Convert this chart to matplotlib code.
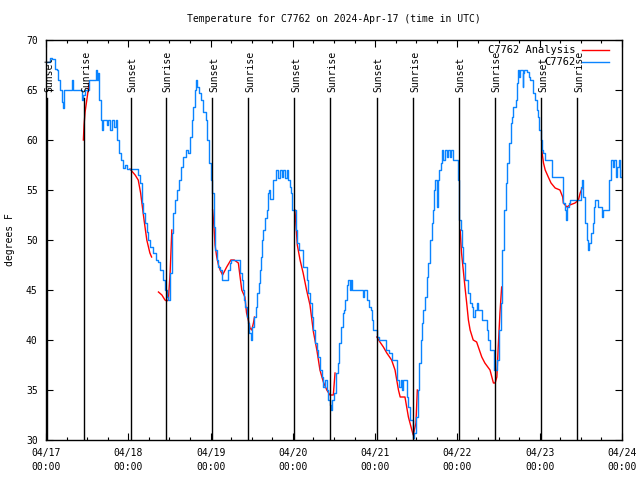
import numpy as np
import matplotlib
matplotlib.use("Agg")
import matplotlib.pyplot as plt
import matplotlib.transforms as mtransforms

# ---- DATA (hours since 04/17 00:00 UTC, degrees F) ----
obs_hours = [
    0.2, 1.2, 1.7, 2.6, 3.3, 3.6, 4.1, 4.6, 5.0, 5.3, 7.5, 7.7, 8.0, 9.9, 10.4, 10.9, 11.4, 12.6, 13.6,
    14.6, 15.0, 15.3, 15.5, 15.9, 16.2, 16.7, 17.7, 18.2, 18.7, 19.2, 19.8, 20.4, 20.6, 21.3, 21.8, 22.4,
    23.0, 23.5,
    26.5, 26.9, 27.4, 27.9, 28.4, 28.9, 29.4, 29.8, 30.3, 31.3, 32.1, 32.8, 33.3, 34.0, 34.7, 35.2, 35.7,
    36.2, 36.7, 37.0, 37.6, 38.1, 38.9, 39.4, 40.0, 40.8, 41.5, 42.0, 42.5, 43.0, 43.5, 43.8, 44.1, 44.6,
    45.2, 45.9, 46.7, 47.0, 47.5,
    48.0, 48.4, 49.0, 49.3, 49.8, 50.3, 50.8, 51.2, 52.9, 53.2, 53.7, 54.0, 55.8, 56.6, 57.1, 57.4, 57.8,
    58.0, 58.5, 59.0, 59.3, 59.7, 60.2, 60.8, 61.3, 61.6, 62.0, 62.4, 62.7, 63.1, 63.4, 63.9, 64.4, 64.8,
    65.1, 65.3, 66.0, 66.1, 67.1, 67.8, 68.3, 68.7, 69.2, 69.7, 70.4, 70.7, 71.2, 71.5, 71.8,
    72.6, 72.8, 73.3, 73.8, 74.9, 75.0, 76.0, 76.5, 77.0, 77.5, 78.0, 78.5, 79.0, 79.4, 79.9, 80.6, 80.9,
    81.4, 81.9, 82.3, 82.8, 83.1, 83.5, 84.0, 84.6, 85.1, 85.5, 86.0, 86.5, 87.0, 87.3, 87.7, 88.2, 88.7,
    89.0, 89.2, 92.1, 92.4, 92.8, 93.3, 93.7, 94.3, 94.7, 95.0, 95.5,
    96.5, 96.6, 97.0, 98.9, 99.2, 100.1, 100.8, 102.3, 102.5, 103.0, 103.5, 103.7, 104.2, 104.9, 105.2,
    105.7, 106.2, 106.7, 107.0, 107.1, 107.4, 107.9, 108.4, 108.9, 109.3, 109.7, 110.0, 110.5, 111.0,
    111.5, 112.0, 112.5, 112.8, 113.2, 113.5, 114.0, 114.2, 114.6, 115.1, 115.4, 115.9, 116.4, 116.9,
    117.3, 117.8, 118.1, 118.6, 119.8,
    120.3, 120.5, 121.0, 121.3, 121.7, 122.2, 122.7, 123.2, 123.7, 124.2, 124.6, 125.1, 125.6, 126.1,
    127.1, 127.2, 128.3, 128.5, 129.0, 129.5, 130.5, 130.8, 131.3, 131.6, 132.1, 132.6, 133.1, 133.6,
    134.1, 134.5, 135.1, 135.5, 136.0, 136.3, 137.0, 137.3, 137.6, 138.0, 138.3, 138.8, 139.0, 139.2,
    139.5, 140.0, 140.4, 140.8, 141.2, 141.8, 142.1, 142.6, 143.1, 143.4, 143.9,
    144.4, 144.7, 145.1, 145.6, 147.2, 147.5, 150.7, 150.9, 151.4, 151.7, 152.0, 152.5, 152.8, 155.8,
    156.0, 156.3, 156.7, 157.2, 157.7, 158.0, 158.4, 159.0, 159.5, 159.8, 160.1, 160.8, 161.1, 162.1,
    162.6, 163.8, 164.3, 164.7, 165.3, 165.8, 166.3, 166.6, 167.1, 167.4, 167.9,
]
obs_temp = [
    67.8, 68.2, 68.1, 67.1, 67.0, 66.0, 65.0, 63.8, 63.2, 65.0, 65.0, 66.0, 65.0, 65.0, 64.0, 64.5, 65.0, 66.0, 66.0,
    67.0, 66.0, 66.7, 64.0, 62.0, 61.0, 62.0, 61.5, 62.0, 61.0, 62.0, 61.3, 62.0, 60.0, 58.7, 58.0, 57.2,
    57.5, 57.1,
    57.1, 56.5, 55.7, 53.7, 52.7, 51.7, 50.8, 50.0, 49.3, 48.7, 48.0, 47.8, 47.0, 46.0, 45.0, 44.3, 44.0,
    46.7, 50.7, 52.7, 54.0, 55.0, 56.0, 57.3, 58.3, 59.0, 58.7, 60.3, 62.0, 63.3, 65.0, 66.0, 65.3, 64.7,
    64.0, 62.8, 62.0, 60.0, 57.7,
    56.0, 54.7, 51.3, 49.0, 48.0, 47.3, 47.0, 46.0, 46.0, 47.0, 47.7, 48.0, 48.0, 46.7, 46.0, 45.0, 44.0,
    43.3, 42.3, 41.7, 40.7, 40.0, 41.3, 42.3, 43.3, 44.7, 45.7, 47.0, 48.3, 50.0, 51.0, 52.2, 53.0, 54.7,
    55.0, 54.1, 54.1, 56.0, 57.0, 56.2, 57.0, 56.3, 57.0, 56.2, 57.0, 56.0, 55.3, 54.7, 53.0,
    53.0, 51.0, 49.7, 49.0, 49.0, 47.3, 46.0, 44.7, 43.7, 42.3, 41.0, 39.7, 39.0, 38.3, 37.0, 36.3, 35.3,
    36.0, 35.0, 34.0, 33.5, 33.0, 34.0, 34.7, 36.7, 37.7, 39.7, 41.3, 42.7, 43.0, 44.0, 45.5, 46.0, 45.0,
    46.0, 45.0, 45.0, 44.3, 45.0, 45.0, 44.0, 43.3, 43.0, 42.0, 41.0,
    41.0, 40.3, 40.0, 40.0, 39.0, 38.7, 38.0, 38.0, 36.0, 35.3, 36.0, 35.0, 36.0, 36.0, 34.3,
    33.3, 32.0, 32.0, 30.7, 30.2, 30.7, 32.3, 35.0, 37.7, 40.0, 41.7, 43.0, 44.3, 46.3,
    47.7, 50.0, 51.7, 53.0, 55.0, 56.0, 53.3, 56.0, 57.0, 57.7, 59.0, 58.0, 59.0, 58.3,
    59.0, 58.3, 59.0, 58.0, 58.0,
    56.0, 52.0, 51.0, 49.3, 47.7, 46.0, 46.0, 44.7, 43.7, 43.3, 42.3, 43.0, 43.7, 43.0,
    43.0, 42.0, 42.0, 41.0, 40.0, 39.0, 39.0, 37.0, 37.0, 38.0, 41.0, 43.7, 49.0, 53.0,
    55.7, 57.7, 59.7, 61.7, 62.3, 63.3, 64.0, 65.7, 67.0, 66.3, 67.0, 67.0, 65.3, 66.7,
    67.0, 67.0, 66.8, 66.3, 66.0, 66.0, 64.7, 64.0, 63.0, 62.3, 61.0,
    60.0, 59.0, 58.7, 58.0, 58.0, 56.3, 56.3, 53.7, 53.0, 52.0, 53.3, 53.7, 54.0, 54.0,
    55.3, 56.0, 54.3, 51.7, 50.0, 49.0, 49.7, 50.7, 51.7, 53.3, 54.0, 54.0, 53.3, 52.3,
    53.0, 53.0, 56.0, 58.0, 57.3, 58.0, 56.3, 57.3, 58.0, 56.3, 57.0,
]

nan = np.nan
ana_hours = [
    10.9, 11.1, 11.4, 11.9, 12.6, nan,
    24.5, 26.0, 26.9, 27.6, 28.6, 29.4, 30.3, 30.8, nan,
    32.8, 33.8, 34.7, 35.2, 35.7, 36.2, 36.7, nan,
    48.6, 49.0, 49.3, 49.8, 50.3, 50.8, 51.5, 52.7, 53.9, 54.9, 56.1, 57.1, 58.0, 58.5, 59.0, 59.5,
    60.0, 60.5, 60.8, nan,
    72.6, 73.3, 74.1, 75.0, 76.0, 77.0, 78.0, 79.0, 79.9, 80.9, 81.9, 82.8, 83.8, 84.3, nan,
    96.5, 97.4, 98.4, 99.4, 100.8, 101.8, 102.8, 103.3, 104.7, 105.7, 106.7, 107.1, 107.9, 108.3, nan,
    120.8, 121.2, 121.7, 122.2, 122.7, 123.2, 123.7, 124.6, 125.6, 126.1, 127.1, 128.0, 129.5, 130.5,
    131.0, 131.5, 131.9, 132.4, 132.9, nan,
    144.6, 145.1, 145.6, 146.5, 147.3, 148.5, 149.9, 150.7, 150.9, 151.9, 152.8, 154.3, 155.3, 155.8, 156.4,
]
ana_temp = [
    60.0, 61.5, 62.8, 64.0, 65.7, nan,
    57.1, 56.5, 56.0, 54.7, 52.0, 50.0, 48.7, 48.3, nan,
    44.8, 44.5, 44.0, 43.9, 44.0, 46.7, 51.0, nan,
    53.0, 51.3, 49.5, 48.3, 47.5, 47.0, 46.5, 47.3, 48.0, 48.0, 47.7, 45.0, 44.3, 42.7, 42.0, 41.2,
    41.0, 41.7, 42.3, nan,
    53.0, 49.5, 48.0, 46.7, 45.0, 43.5, 40.8, 39.0, 37.0, 35.8, 35.0, 34.5, 34.5, 36.7, nan,
    40.3, 39.8, 39.3, 38.7, 38.0, 37.0, 35.0, 34.3, 34.3, 32.3, 31.0, 30.5, 31.7, 35.0, nan,
    51.0, 48.7, 47.0, 45.3, 43.7, 42.0, 41.0, 40.0, 39.8, 39.3, 38.3, 37.7, 37.0, 35.7,
    35.7, 36.3, 39.3, 42.7, 45.3, nan,
    59.0, 57.7, 57.0, 56.3, 55.7, 55.2, 55.0, 54.3, 53.7, 53.3, 53.5, 53.7, 54.0, 54.7, 55.2,
]

sunset_hours = [0.4, 24.7, 48.5, 72.4, 96.5, 120.5, 144.5]
sunrise_hours = [11.2, 35.0, 59.0, 82.9, 107.1, 131.0, 155.0]
day_labels = ["04/17", "04/18", "04/19", "04/20", "04/21", "04/22", "04/23", "04/24"]

assert len(obs_hours) == len(obs_temp), (len(obs_hours), len(obs_temp))
assert len(ana_hours) == len(ana_temp), (len(ana_hours), len(ana_temp))

# ---- PLOT ----
plt.rcParams["font.family"] = "DejaVu Sans Mono"
plt.rcParams["font.size"] = 7

fig = plt.figure(figsize=(6.4, 4.8), dpi=100)
ax = fig.add_axes([46 / 640, 40 / 480, 576 / 640, 400 / 480])

ax.plot(ana_hours, ana_temp, color="#ff0000", lw=1.0, label="C7762 Analysis")
ax.plot(obs_hours, obs_temp, color="#0a84ff", lw=1.0, drawstyle="steps-post", label="C7762")

# sunset / sunrise markers
trans = mtransforms.blended_transform_factory(ax.transData, ax.transAxes)
for name, hrs in [("Sunset", sunset_hours), ("Sunrise", sunrise_hours)]:
    for h in hrs:
        ax.plot([h, h], [0, 0.855], color="black", lw=1.0, transform=trans)
        ax.text(h + 0.5, 0.87, name, rotation=90, ha="center", va="bottom",
                transform=trans, fontsize=7)

ax.set_xlim(0, 168)
ax.set_ylim(30, 70)
ax.set_xticks(np.arange(0, 169, 24))
ax.set_xticklabels([d + "\n00:00" for d in day_labels])
for lab in ax.get_xticklabels():
    lab.set_linespacing(1.45)
ax.set_xticks(np.arange(0, 169, 6), minor=True)
ax.set_yticks(np.arange(30, 71, 5))
ax.tick_params(which="both", direction="in", top=True, right=True, width=0.8)
ax.tick_params(which="major", length=5, pad=6)
ax.tick_params(which="minor", length=2.5)
for s in ax.spines.values():
    s.set_linewidth(1.0)

ax.legend(loc="upper right", bbox_to_anchor=(0.99, 1.005), frameon=False, markerfirst=False,
          handlelength=2.6, handletextpad=0.6, labelspacing=0.2, fontsize=7.5, borderpad=0.2)

fig.text(334 / 640, 1 - 19 / 480, "Temperature for C7762 on 2024-Apr-17 (time in UTC)",
         ha="center", va="center", fontsize=7)
fig.text(10 / 640, 0.5, "degrees F", rotation=90, ha="center", va="center", fontsize=7)

fig.savefig("out.png", dpi=100)
